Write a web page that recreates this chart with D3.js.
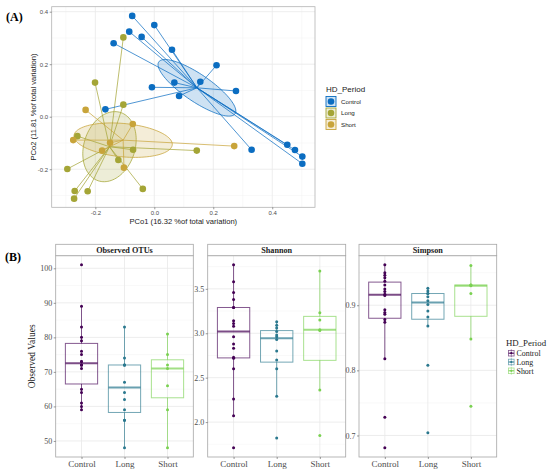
<!DOCTYPE html>
<html><head><meta charset="utf-8">
<script src="https://cdn.jsdelivr.net/npm/d3@7"></script>
<style>body{margin:0;background:#fff}</style>
</head><body><svg id="c" width="550" height="474"></svg>
<script>
// ---------- DATA ----------
const groups = ["Control", "Long", "Short"];
// PCoA coordinates
const controlPC1 = [-0.075, 0.000, -0.085, -0.043, -0.138, 0.060, 0.211, 0.156, 0.068, -0.008, 0.277, 0.084, -0.166, 0.330, 0.451, 0.477, 0.502, 0.502];
const controlPC2 = [0.384, 0.349, 0.324, 0.304, 0.280, 0.255, 0.196, 0.133, 0.130, 0.112, 0.098, 0.079, 0.028, -0.126, -0.107, -0.127, -0.152, -0.179];
const longPC1 = [-0.105, -0.201, -0.105, -0.261, -0.072, 0.144, -0.122, -0.295, -0.226, -0.270, -0.272, -0.039];
const longPC2 = [0.302, 0.130, 0.046, -0.074, -0.126, -0.129, -0.165, -0.199, -0.284, -0.283, -0.312, -0.275];
const shortPC1 = [-0.233, -0.073, -0.275, -0.150, -0.177, 0.271, -0.103];
const shortPC2 = [0.026, -0.028, -0.089, -0.099, -0.129, -0.112, -0.194];
const pcoTicks = [-0.2, 0.0, 0.2, 0.4];
const pc1Label = "PCo1 (16.32 %of total variation)";
const pc2Label = "PCo2 (11.81 %of total variation)";

// Alpha diversity
const metrics = ["Observed OTUs", "Shannon", "Simpson"];
const obsControl = [59, 60, 61, 64, 65, 71, 72, 72, 72, 73, 73, 75, 76, 79, 80, 83, 89, 101];
const obsLong = [48, 56, 56, 59, 62, 64, 67, 72, 72, 72, 74, 83];
const obsShort = [48, 59, 66, 71, 72, 75, 81];
const shanControl = [1.71, 2.07, 2.26, 2.60, 2.72, 2.73, 2.83, 2.88, 2.96, 3.08, 3.11, 3.14, 3.29, 3.29, 3.38, 3.46, 3.58, 3.77];
const shanLong = [1.82, 2.29, 2.60, 2.70, 2.80, 2.93, 2.96, 2.98, 3.02, 3.06, 3.09, 3.13];
const shanShort = [1.85, 2.36, 3.03, 3.04, 3.15, 3.23, 3.70];
const simpControl = [0.681, 0.728, 0.818, 0.874, 0.878, 0.886, 0.889, 0.893, 0.915, 0.917, 0.921, 0.925, 0.931, 0.937, 0.942, 0.946, 0.950, 0.962];
const simpLong = [0.704, 0.808, 0.868, 0.882, 0.891, 0.901, 0.907, 0.913, 0.918, 0.918, 0.922, 0.926];
const simpShort = [0.745, 0.848, 0.918, 0.930, 0.931, 0.931, 0.961];
const obsTicks = [50, 60, 70, 80, 90, 100];
const shanTicks = [2.0, 2.5, 3.0, 3.5];
const simpTicks = [0.7, 0.8, 0.9];
const legendTitle = "HD_Period";

// ---------- STYLE ----------
const colA = {Control: "#0b6dc1", Long: "#a4a536", Short: "#c8a43a"};
const colB = {Control: "#440154", Long: "#2A788E", Short: "#7AD151"};
const sans = "'Liberation Sans', Arial, sans-serif";
const serif = "'Liberation Serif', 'Times New Roman', serif";

const svg = d3.select("#c");
svg.append("rect").attr("width", 550).attr("height", 474).attr("fill", "#fff");

// ---------- PANEL A ----------
const A = {l: 51.7, r: 315, t: 6.7, b: 207.3};
const xA = d3.scaleLinear().domain([-0.348, 0.545]).range([A.l, A.r]);
const yA = d3.scaleLinear().domain([-0.345, 0.419]).range([A.b, A.t]);
const gA = svg.append("g");

// grid
const minorX = [-0.3, -0.1, 0.1, 0.3, 0.5], minorY = [-0.3, -0.1, 0.1, 0.3];
minorX.forEach(v => gA.append("line").attr("x1", xA(v)).attr("x2", xA(v)).attr("y1", A.t).attr("y2", A.b).attr("stroke", "#f3f3f3").attr("stroke-width", 0.5));
minorY.forEach(v => gA.append("line").attr("y1", yA(v)).attr("y2", yA(v)).attr("x1", A.l).attr("x2", A.r).attr("stroke", "#f3f3f3").attr("stroke-width", 0.5));
pcoTicks.forEach(v => {
  gA.append("line").attr("x1", xA(v)).attr("x2", xA(v)).attr("y1", A.t).attr("y2", A.b).attr("stroke", "#e8e8e8").attr("stroke-width", 0.8);
  gA.append("line").attr("y1", yA(v)).attr("y2", yA(v)).attr("x1", A.l).attr("x2", A.r).attr("stroke", "#e8e8e8").attr("stroke-width", 0.8);
});

const pco = {
  Control: controlPC1.map((x, i) => [x, controlPC2[i]]),
  Long: longPC1.map((x, i) => [x, longPC2[i]]),
  Short: shortPC1.map((x, i) => [x, shortPC2[i]])
};

function seEllipse(pts) {
  const n = pts.length;
  const mx = d3.mean(pts, d => d[0]), my = d3.mean(pts, d => d[1]);
  let sxx = 0, syy = 0, sxy = 0;
  pts.forEach(([x, y]) => { sxx += (x - mx) ** 2; syy += (y - my) ** 2; sxy += (x - mx) * (y - my); });
  sxx /= (n - 1) * n; syy /= (n - 1) * n; sxy /= (n - 1) * n;
  const a = Math.sqrt(sxx), b = sxy / a, c = Math.sqrt(Math.max(syy - b * b, 0));
  const s = Math.sqrt(5.991);
  return d3.range(0, 100).map(k => {
    const t = 2 * Math.PI * k / 100, u = Math.cos(t), v = Math.sin(t);
    return [mx + s * a * u, my + s * (b * u + c * v)];
  });
}
const lineA = d3.line().x(d => xA(d[0])).y(d => yA(d[1])).curve(d3.curveLinearClosed);
const drawOrder = ["Long", "Short", "Control"];
drawOrder.forEach(g => {
  gA.append("path").attr("d", lineA(seEllipse(pco[g])))
    .attr("fill", colA[g]).attr("fill-opacity", 0.2)
    .attr("stroke", colA[g]).attr("stroke-width", 0.9).attr("stroke-opacity", 0.85);
});
drawOrder.forEach(g => {
  const cx = d3.mean(pco[g], d => d[0]), cy = d3.mean(pco[g], d => d[1]);
  gA.append("g").selectAll("line").data(pco[g]).join("line")
    .attr("x1", xA(cx)).attr("y1", yA(cy))
    .attr("x2", d => xA(d[0])).attr("y2", d => yA(d[1]))
    .attr("stroke", colA[g]).attr("stroke-opacity", 0.8).attr("stroke-width", 0.9);
});
drawOrder.forEach(g => {
  gA.append("g").selectAll("circle").data(pco[g]).join("circle")
    .attr("cx", d => xA(d[0])).attr("cy", d => yA(d[1])).attr("r", 3.3)
    .attr("fill", colA[g]);
});
gA.append("rect").attr("x", A.l).attr("y", A.t).attr("width", A.r - A.l).attr("height", A.b - A.t)
  .attr("fill", "none").attr("stroke", "#b3b3b3").attr("stroke-width", 0.8);

const fmtA = v => v.toFixed(1);
const axAx = gA.append("g").attr("transform", `translate(0,${A.b})`)
  .call(d3.axisBottom(xA).tickValues(pcoTicks).tickFormat(fmtA).tickSize(2).tickPadding(1.5));
const axAy = gA.append("g").attr("transform", `translate(${A.l},0)`)
  .call(d3.axisLeft(yA).tickValues(pcoTicks).tickFormat(fmtA).tickSize(2).tickPadding(1.5));
[axAx, axAy].forEach(ax => {
  ax.select(".domain").remove();
  ax.selectAll(".tick line").attr("stroke", "#555").attr("stroke-width", 0.6);
  ax.selectAll("text").attr("font-family", sans).attr("font-size", 6).attr("fill", "#4d4d4d");
});
gA.append("text").attr("x", (A.l + A.r) / 2).attr("y", 224).attr("text-anchor", "middle")
  .attr("font-family", sans).attr("font-size", 7.6).attr("fill", "#222").text(pc1Label);
gA.append("text").attr("transform", `translate(36,${(A.t + A.b) / 2}) rotate(-90)`).attr("text-anchor", "middle")
  .attr("font-family", sans).attr("font-size", 7.6).attr("fill", "#222").text(pc2Label);

// legend A
gA.append("text").attr("x", 326).attr("y", 92).attr("font-family", sans).attr("font-size", 8).attr("fill", "#222").text(legendTitle);
groups.forEach((g, i) => {
  const y0 = 96.5 + i * 11.5;
  gA.append("rect").attr("x", 326).attr("y", y0).attr("width", 10).attr("height", 10)
    .attr("fill", colA[g]).attr("fill-opacity", 0.2).attr("stroke", colA[g]).attr("stroke-width", 0.9);
  gA.append("circle").attr("cx", 331).attr("cy", y0 + 5).attr("r", 3.3).attr("fill", colA[g]);
  gA.append("text").attr("x", 341).attr("y", y0 + 7.2).attr("font-family", sans).attr("font-size", 6.2).attr("fill", "#222").text(g);
});

// ---------- PANEL B ----------
const facets = [
  {name: metrics[0], data: {Control: obsControl, Long: obsLong, Short: obsShort}, ticks: obsTicks, fmt: d3.format("d"), l: 55.7, r: 193.3},
  {name: metrics[1], data: {Control: shanControl, Long: shanLong, Short: shanShort}, ticks: shanTicks, fmt: d3.format(".1f"), l: 207.7, r: 345.7},
  {name: metrics[2], data: {Control: simpControl, Long: simpLong, Short: simpShort}, ticks: simpTicks, fmt: d3.format(".1f"), l: 359, r: 496.7}
];
const B = {st: 244.3, t: 255.7, b: 457};
const gB = svg.append("g");
facets.forEach(f => {
  const all = groups.flatMap(g => f.data[g]);
  const [mn, mx] = d3.extent(all);
  const e = (mx - mn) * 0.05;
  const y = d3.scaleLinear().domain([mn - e, mx + e]).range([B.b, B.t]);
  const x = d3.scalePoint().domain(groups).range([f.l, f.r]).padding(0.6);
  const step = x.step();
  const g = gB.append("g");
  // minor grid
  const tk = f.ticks, dt = tk[1] - tk[0];
  const minors = d3.range(tk[0] - dt / 2, mx + e, dt).filter(v => v > mn - e && v < mx + e);
  minors.forEach(v => g.append("line").attr("x1", f.l).attr("x2", f.r).attr("y1", y(v)).attr("y2", y(v)).attr("stroke", "#f3f3f3").attr("stroke-width", 0.5));
  tk.forEach(v => g.append("line").attr("x1", f.l).attr("x2", f.r).attr("y1", y(v)).attr("y2", y(v)).attr("stroke", "#e8e8e8").attr("stroke-width", 0.8));
  groups.forEach(c => g.append("line").attr("x1", x(c)).attr("x2", x(c)).attr("y1", B.t).attr("y2", B.b).attr("stroke", "#e8e8e8").attr("stroke-width", 0.8));
  // boxes
  groups.forEach(c => {
    const v = f.data[c].slice().sort(d3.ascending);
    const q1 = d3.quantile(v, 0.25), md = d3.quantile(v, 0.5), q3 = d3.quantile(v, 0.75);
    const iqr = q3 - q1;
    const lo = d3.min(v.filter(d => d >= q1 - 1.5 * iqr)), hi = d3.max(v.filter(d => d <= q3 + 1.5 * iqr));
    const cx = x(c), w = step * 0.75;
    const col = colB[c];
    g.append("line").attr("x1", cx).attr("x2", cx).attr("y1", y(hi)).attr("y2", y(q3)).attr("stroke", col).attr("stroke-opacity", 0.65).attr("stroke-width", 1);
    g.append("line").attr("x1", cx).attr("x2", cx).attr("y1", y(q1)).attr("y2", y(lo)).attr("stroke", col).attr("stroke-opacity", 0.65).attr("stroke-width", 1);
    g.append("rect").attr("x", cx - w / 2).attr("y", y(q3)).attr("width", w).attr("height", y(q1) - y(q3))
      .attr("fill", "none").attr("stroke", col).attr("stroke-opacity", 0.65).attr("stroke-width", 1);
    g.append("line").attr("x1", cx - w / 2).attr("x2", cx + w / 2).attr("y1", y(md)).attr("y2", y(md)).attr("stroke", col).attr("stroke-opacity", 0.7).attr("stroke-width", 2);
    g.append("g").selectAll("circle").data(v).join("circle")
      .attr("cx", cx).attr("cy", d => y(d)).attr("r", 1.5).attr("fill", col);
  });
  g.append("rect").attr("x", f.l).attr("y", B.t).attr("width", f.r - f.l).attr("height", B.b - B.t)
    .attr("fill", "none").attr("stroke", "#a6a6a6").attr("stroke-width", 0.8);
  // strip
  g.append("rect").attr("x", f.l).attr("y", B.st).attr("width", f.r - f.l).attr("height", B.t - B.st)
    .attr("fill", "#fff").attr("stroke", "#a6a6a6").attr("stroke-width", 0.8);
  g.append("text").attr("x", (f.l + f.r) / 2).attr("y", B.t - 2.8).attr("text-anchor", "middle")
    .attr("font-family", serif).attr("font-weight", "bold").attr("font-size", 8.2).attr("fill", "#1a1a1a").text(f.name);
  // axes
  const ay = g.append("g").attr("transform", `translate(${f.l},0)`)
    .call(d3.axisLeft(y).tickValues(tk).tickFormat(f.fmt).tickSize(2).tickPadding(1.5));
  const ax = g.append("g").attr("transform", `translate(0,${B.b})`)
    .call(d3.axisBottom(x).tickSize(2).tickPadding(2));
  [ay, ax].forEach(a => {
    a.select(".domain").remove();
    a.selectAll(".tick line").attr("stroke", "#555").attr("stroke-width", 0.6);
    a.selectAll("text").attr("font-family", serif).attr("fill", "#4d4d4d");
  });
  ay.selectAll("text").attr("font-size", 8);
  ax.selectAll("text").attr("font-size", 9);
});
gB.append("text").attr("transform", `translate(35,${(B.t + B.b) / 2}) rotate(-90)`).attr("text-anchor", "middle")
  .attr("font-family", serif).attr("font-size", 9.5).attr("fill", "#222").text("Observed Values");

// legend B
gB.append("text").attr("x", 506).attr("y", 346).attr("font-family", serif).attr("font-size", 8.8).attr("fill", "#222").text(legendTitle);
groups.forEach((c, i) => {
  const cy = 353.2 + i * 8.8;
  const col = colB[c];
  gB.append("rect").attr("x", 508.5).attr("y", cy - 2.8).attr("width", 5.6).attr("height", 5.6)
    .attr("fill", "none").attr("stroke", col).attr("stroke-opacity", 0.65).attr("stroke-width", 0.8);
  gB.append("line").attr("x1", 508.5).attr("x2", 514.1).attr("y1", cy).attr("y2", cy).attr("stroke", col).attr("stroke-width", 1);
  gB.append("line").attr("x1", 511.3).attr("x2", 511.3).attr("y1", cy - 4).attr("y2", cy + 4).attr("stroke", col).attr("stroke-opacity", 0.65).attr("stroke-width", 0.6);
  gB.append("circle").attr("cx", 511.3).attr("cy", cy).attr("r", 1.1).attr("fill", col);
  gB.append("text").attr("x", 516.5).attr("y", cy + 2.8).attr("font-family", serif).attr("font-size", 7.9).attr("fill", "#222").text(c);
});

// panel labels
svg.append("text").attr("x", 6).attr("y", 21).attr("font-family", serif).attr("font-weight", "bold").attr("font-size", 12).attr("fill", "#000").text("(A)");
svg.append("text").attr("x", 5).attr("y", 261).attr("font-family", serif).attr("font-weight", "bold").attr("font-size", 12).attr("fill", "#000").text("(B)");
</script></body></html>
